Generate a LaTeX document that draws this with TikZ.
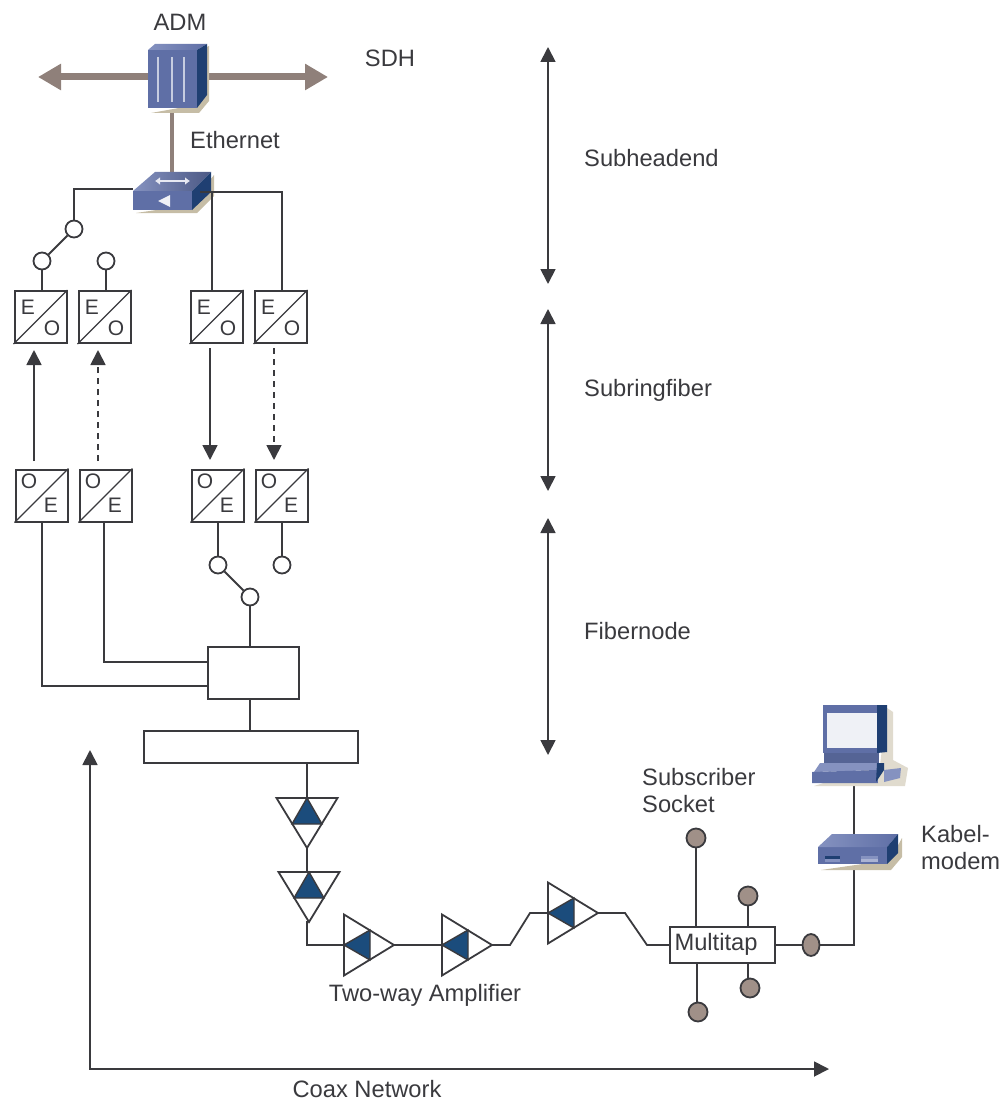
\documentclass[tikz,border=0pt]{standalone}
\usepackage{fontspec}
\setmainfont{Liberation Sans}
\usetikzlibrary{arrows.meta,shapes.geometric}
\definecolor{inkgray}{HTML}{3A3A3E}
\definecolor{trunkbrown}{HTML}{8F807A}
\definecolor{socketbrown}{HTML}{A09088}
\definecolor{ampblue}{HTML}{1B4C7C}
\definecolor{facelight}{HTML}{8592C0}
\definecolor{faceblue}{HTML}{5F6FA6}
\definecolor{facedark}{HTML}{1F3F72}
\definecolor{shadowtan}{HTML}{C6BDA6}
\tikzset{
    wire/.style={draw=inkgray, line width=1.8pt},
    trunk/.style={draw=trunkbrown, line width=4pt},
    bigarrow/.style={draw=trunkbrown, line width=7pt, -{Triangle[length=23pt,width=25pt,fill=trunkbrown]}},
    spanarrow/.style={wire, {Triangle[length=15pt,width=15pt]}-{Triangle[length=15pt,width=15pt]}},
    linkarrow/.style={wire, -{Triangle[length=15pt,width=15pt]}},
    linkdash/.style={linkarrow, dash pattern=on 6pt off 5pt},
    port/.style={circle, draw=inkgray, line width=1.8pt, fill=white, minimum size=17pt, inner sep=0pt},
    socket/.style={circle, draw=inkgray, line width=1.8pt, fill=socketbrown, minimum size=19pt, inner sep=0pt},
    conv/.style={rectangle, draw=inkgray, line width=2pt, fill=white, minimum size=52pt, inner sep=0pt},
    blockbox/.style={rectangle, draw=inkgray, line width=1.8pt, fill=white, inner sep=0pt},
    caption/.style={text=inkgray, font=\fontsize{23.7}{27}\selectfont, inner sep=0pt},
    leftcap/.style={caption, anchor=west, align=left},
    convtext/.style={text=inkgray, font=\fontsize{21}{25}\selectfont, inner sep=0pt},
    ampli/.pic={
        \fill[white] (0,-30.5) -- (50,0) -- (0,30.5) -- cycle;
        \filldraw[fill=ampblue, draw=inkgray, line width=1.4pt] (0,0) -- (26,-15) -- (26,15) -- cycle;
        \draw[wire, line join=miter] (0,-30.5) -- (50,0) -- (0,30.5) -- cycle;
        \coordinate (-in) at (0,0);
        \coordinate (-out) at (50,0);
    }
}
\newcommand{\convbox}[1]{%
    \node[conv] (#1) at (\cx,\cy) {};
    \draw[wire, line width=1.4pt] (#1.south west) -- (#1.north east);
}
\begin{document}
\begin{tikzpicture}[x=1pt, y=-1pt]
    \useasboundingbox (0,0) rectangle (1000,1102);

    % Trunk through the ADM
    \node[minimum width=61pt, minimum height=69pt, inner sep=0pt] (adm) at (178.5,78.5) {};
    \coordinate (sdhL) at (38,77);
    \coordinate (sdhR) at (328,77);
    \draw[bigarrow] (148,77) -- (sdhL);
    \draw[bigarrow] (209,77) -- (sdhR);

    % ADM
    \fill[shadowtan] (151,113) -- (199,113) -- (209,101) -- (209,46) -- (200,50) -- (190,106) -- cycle;
    \fill[faceblue] (148,50) rectangle (197,108);
    \shade[left color=facelight, right color=faceblue] (148,50) -- (155,44) -- (207,44) -- (197,50) -- cycle;
    \fill[facedark] (197,50) -- (207,44) -- (207,95) -- (197,108) -- cycle;
    \foreach \xs in {158,172,184}
        \draw[white!65!faceblue, line width=2.4pt] (\xs,57) -- (\xs,102);
    \node[caption] (admlabel) at (180,22) {ADM};
    \node[caption] (sdhlabel) at (390,58) {SDH};
    \node[leftcap] (ethlabel) at (190,140) {Ethernet};

    % Switch
    \node[minimum width=78pt, minimum height=40pt, inner sep=0pt] (sw) at (172,192) {};
    \coordinate (admfoot) at (172,113);
    \coordinate (swtop) at (172,172);
    \draw[trunk] (admfoot) -- (swtop);
    \fill[shadowtan] (136,213) -- (197,213) -- (214,196) -- (214,175) -- (190,205) -- cycle;
    \fill[faceblue] (133,191) rectangle (192,210);
    \shade[left color=facelight, right color=faceblue!80!black] (133,191) -- (155,172) -- (211,172) -- (192,191) -- cycle;
    \fill[facedark] (192,191) -- (211,172) -- (211,192) -- (192,210) -- cycle;
    \draw[white!85!faceblue, line width=2pt, {Latex[length=5pt,width=8pt]}-{Latex[length=5pt,width=8pt]}] (155,181) -- (190,181);
    \fill[white!90!faceblue] (170,195) -- (170,207) -- (158,201) -- cycle;

    % Transmitters and receivers
    \foreach \cx/\name in {40.5/eoA,104.5/eoB,216.5/eoC,280.5/eoD} {
        \def\cy{317}
        \convbox{\name}
        \node[convtext] at (\cx-12.5,\cy-10) {E};
        \node[convtext] at (\cx+11.5,\cy+11) {O};
    }
    \foreach \cx/\name in {41.5/oeA,105.5/oeB,217.5/oeC,281.5/oeD} {
        \def\cy{495.5}
        \convbox{\name}
        \node[convtext] at (\cx-12.5,\cy-14) {O};
        \node[convtext] at (\cx+9.5,\cy+9.5) {E};
    }

    % Switch ports
    \node[port] (swA) at (74,229) {};
    \node[port] (swB) at (42,261) {};
    \node[port] (swC) at (106,261) {};
    \node[port] (swD) at (218,565) {};
    \node[port] (swE) at (282,565) {};
    \node[port] (swF) at (250,597) {};
    \coordinate (swL) at (133,189);
    \coordinate (swR) at (200,192);
    \coordinate (feedC) at (212,291);
    \coordinate (feedD) at (282,291);
    \draw[wire] (swL) -| (swA);
    \draw[wire] (swR) -| (feedC);
    \draw[wire] (swR) -| (feedD);
    \draw[wire] (swA) -- (swB);
    \draw[wire] (swB) -- (42,291);
    \draw[wire] (swC) -- (106,291);
    \draw[wire] (218,522) -- (swD);
    \draw[wire] (282,522) -- (swE);
    \draw[wire] (swD) -- (swF);

    % Fibre links
    \coordinate (upA) at (34,461);
    \coordinate (upAe) at (34,350);
    \coordinate (upB) at (98,461);
    \coordinate (upBe) at (98,350);
    \coordinate (dnC) at (210,348);
    \coordinate (dnCe) at (210,460);
    \coordinate (dnD) at (274,348);
    \coordinate (dnDe) at (274,460);
    \draw[linkarrow] (upA) -- (upAe);
    \draw[linkdash] (upB) -- (upBe);
    \draw[linkarrow] (dnC) -- (dnCe);
    \draw[linkdash] (dnD) -- (dnDe);

    % Fibernode boxes
    \node[blockbox, minimum width=91pt, minimum height=52pt] (node) at (253.5,673) {};
    \node[blockbox, minimum width=214pt, minimum height=32pt] (split) at (251,747) {};
    \draw[wire] (42,522) |- (node.west |- 0,686);
    \draw[wire] (104,522) |- (node.west |- 0,662);
    \draw[wire] (swF) -- (swF |- node.north);
    \draw[wire] (node.south -| swF) -- (split.north -| swF);

    % Amplifier chain
    \pic[rotate=-90] (ampA) at (307,798) {ampli};
    \pic[rotate=-90] (ampB) at (309,872) {ampli};
    \pic (ampC) at (344,945) {ampli};
    \pic (ampD) at (442,945) {ampli};
    \pic (ampE) at (548,913) {ampli};
    \node[blockbox, minimum width=105pt, minimum height=36pt] (tap) at (722.5,945) {};
    \node[caption] (taplabel) at (716,944) {Multitap};
    \draw[wire] (ampA-in |- split.south) -- (ampA-in);
    \draw[wire] (ampA-out) -- (307,872);
    \draw[wire] (307,921) |- (ampC-in);
    \draw[wire] (ampC-out) -- (ampD-in);
    \draw[wire] (ampD-out) -- (510,945) -- (530,913) -- (ampE-in);
    \draw[wire] (ampE-out) -- (625,913) -- (647,945) -- (tap.west);

    % Subscriber sockets
    \node[socket] (sockA) at (696,838) {};
    \node[socket] (sockB) at (748,896) {};
    \node[socket] (sockC) at (750,988) {};
    \node[socket] (sockD) at (698,1012) {};
    \node[ellipse, draw=inkgray, line width=1.8pt, fill=socketbrown, minimum width=17pt, minimum height=22pt, inner sep=0pt] (sockE) at (811,945) {};
    \draw[wire] (sockA) -- (696,927);
    \draw[wire] (748,905) -- (748,927);
    \draw[wire] (748,963) -- (748,979);
    \draw[wire] (697,963) -- (697,1003);
    \draw[wire] (tap.east) -- (sockE);

    % Modem
    \node[minimum width=84pt, minimum height=35pt, inner sep=0pt] (modem) at (860,852) {};
    \coordinate (modemfoot) at (854,869);
    \draw[wire] (sockE) -| (modemfoot);
    \fill[shadowtan] (821,870) -- (891,870) -- (902,857) -- (902,838) -- (890,860) -- cycle;
    \fill[faceblue] (818,847) rectangle (887,864);
    \shade[left color=facelight, right color=faceblue] (818,847) -- (832,834) -- (898,834) -- (887,847) -- cycle;
    \fill[facedark] (887,847) -- (898,834) -- (898,853) -- (887,864) -- cycle;
    \fill[facedark] (825,856) rectangle (840,859);
    \fill[facelight] (825,859) rectangle (840,862);
    \fill[facelight] (861,856) rectangle (878,859);
    \fill[facelight!70!white] (861,859) rectangle (878,862);

    % Computer
    \node[minimum width=96pt, minimum height=80pt, inner sep=0pt] (pc) at (860,745) {};
    \coordinate (pcfoot) at (854,785);
    \coordinate (modemtop) at (854,834);
    \draw[wire] (pcfoot) -- (modemtop);
    \fill[shadowtan!55!white] (814,786) -- (905,786) -- (908,768) -- (893,760) -- (893,712) -- (887,708) -- (880,765) -- cycle;
    \fill[faceblue] (823,705) rectangle (878,753);
    \fill[facedark] (877,705) -- (887,705) -- (887,752) -- (877,753) -- cycle;
    \fill[white!90!faceblue] (827,713) rectangle (877,748);
    \fill[faceblue!90!black] (824,753) rectangle (879,763);
    \fill[facelight] (820,763) -- (880,763) -- (880,770) -- (814,772) -- cycle;
    \fill[faceblue] (812,772) -- (877,770) -- (878,783) -- (812,783) -- cycle;
    \fill[facedark] (877,763) -- (884,763) -- (884,770) -- (876,782) -- cycle;
    \fill[facelight] (884,770) -- (901,768) -- (900,778) -- (884,782) -- cycle;

    % Level arrows
    \coordinate (subTop) at (548,47);
    \coordinate (subBot) at (548,284);
    \coordinate (ringTop) at (548,309);
    \coordinate (ringBot) at (548,491);
    \coordinate (fibTop) at (548,518);
    \coordinate (fibBot) at (548,755);
    \draw[spanarrow] (subTop) -- (subBot);
    \draw[spanarrow] (ringTop) -- (ringBot);
    \draw[spanarrow] (fibTop) -- (fibBot);
    \node[leftcap] (sublabel) at (584,158) {Subheadend};
    \node[leftcap] (ringlabel) at (584,390) {Subringfiber};
    \node[leftcap] (fiblabel) at (584,631) {Fibernode};

    % Coax axes
    \coordinate (coaxTop) at (90,750);
    \coordinate (coaxEnd) at (829,1069);
    \draw[spanarrow] (coaxTop) |- (coaxEnd);

    % Remaining labels
    \node[caption] (amplabel) at (425,995) {Two-way Amplifier};
    \node[caption] (coaxlabel) at (367,1089) {Coax Network};
    \node[leftcap] (subsclabel) at (642,791) {Subscriber\\Socket};
    \node[leftcap] (modemlabel) at (921,848) {Kabel-\\modem};
\end{tikzpicture}
\end{document}
